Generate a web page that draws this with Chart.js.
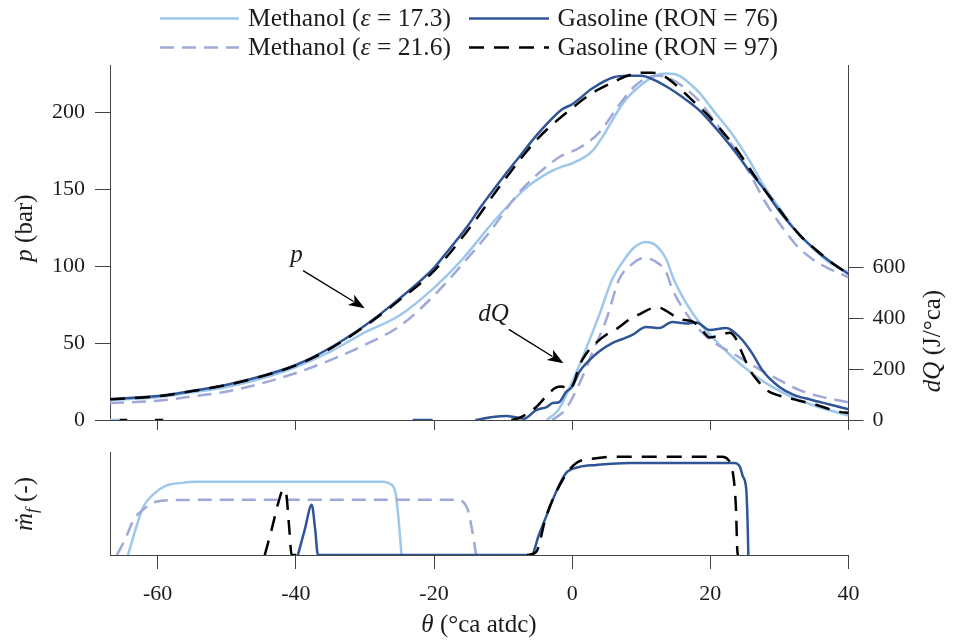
<!DOCTYPE html>
<html><head><meta charset="utf-8">
<script src="https://cdn.jsdelivr.net/npm/chart.js@4.4.1/dist/chart.umd.min.js"></script>
<style>
html,body{margin:0;padding:0;background:#fff;overflow:hidden}
#wrap{position:relative;width:953px;height:644px;background:#fff}
canvas{position:absolute;left:0}
</style></head><body>
<div id="wrap">
<canvas id="cTop" width="953" height="440" style="top:0"></canvas>
<canvas id="cBot" width="953" height="204" style="top:440px"></canvas>
</div>
<script>
// ---------------- DATA ----------------
const thetaTicks = [-60, -40, -20, 0, 20, 40];
const pTicks = [0, 50, 100, 150, 200];
const dqTicks = [0, 200, 400, 600];

// cylinder pressure p (bar) vs theta (°ca atdc)
const pMeth173 = [[-66.9,13],[-60,14.8],[-55,18],[-50,21.5],[-45,27],[-40,34.5],[-35,44.5],[-30,57],[-25,68],[-20,86],[-16,104],[-11.2,130],[-6.4,152],[-3,162],[-1.4,165],[0,167],[2.9,175],[4.5,185],[5.8,195],[7.5,207],[9.7,217],[12,224],[13.6,225.5],[15.5,224],[17,219],[18.4,213],[20.5,201],[23,187],[25.5,170],[27.8,152],[30,138],[32.6,122],[35,111],[37.4,102],[40,96]];
const pMeth216 = [[-66.9,11],[-60,12.5],[-55,15.3],[-50,18.5],[-45,23.8],[-40,30.6],[-35,39],[-30,49],[-25,61],[-20,81],[-15,106],[-12,122],[-7.7,148],[-5,160],[-1.9,171],[1,177],[3.9,187],[6.8,205],[9,217],[11,223],[12.5,224],[14,222.5],[16,217],[18.3,208],[20.5,195],[23,180],[25.5,162],[27.8,143],[30,128],[32.6,113],[35,104],[37.4,98],[40,93]];
const pGas76 = [[-66.9,13.7],[-60,15.6],[-55,19],[-50,23],[-45,28.5],[-40,35.8],[-35,47],[-30,61.5],[-25,79],[-20,99],[-18.8,105.5],[-15,127],[-13.5,137],[-10,158],[-7.7,171],[-5,186],[-1.5,202],[0,205.5],[3,216],[6,223],[8,224],[10,224],[12,221],[14,216],[16,210],[18.3,202],[20,194],[23,178],[25.5,163],[27.8,150],[30,136],[32.6,122],[35.4,110],[38,101],[40,95]];
const pGas97 = [[-66.9,13.5],[-60,15.4],[-55,18.8],[-50,22.8],[-45,28.3],[-40,35.5],[-35,46.5],[-30,61],[-25,78],[-20,97],[-15,124],[-10,155],[-5,183],[0,203],[3,213],[6,220],[8,224],[10,226],[11.5,226],[13.6,223],[15.5,216],[17.4,208],[19.5,199],[21.3,190],[23.5,178],[25.2,167],[27,155],[29,143],[31,131],[33,120],[35.5,110],[38,101],[40,95]];

// heat release dQ (J/°ca) vs theta; null = gap in the line
const dqMeth173 = [[-66.9,0],[-65.5,0],[-65.4,null],[-3.7,0],[-2,40],[0,150],[2,280],[4,420],[5.8,554],[7.5,630],[9,680],[10.7,701],[12,690],[13.6,634],[14.7,554],[16.5,460],[18.4,384],[20.5,320],[23.1,250],[25.5,195],[28,146],[30.5,108],[32.8,79],[36,48],[40,18]];
const dqMeth216 = [[-2.9,0],[-1,40],[1,140],[3,270],[5,400],[6.8,554],[8.5,610],[10.4,638],[12,625],[13.6,582],[14.5,515],[16.5,420],[18.4,356],[20.5,305],[23.1,265],[25.5,225],[28,186],[30.5,150],[32.8,119],[36,92],[40,70]];
const dqGas76 = [[-23.1,0],[-20.2,0],[-20.1,null],[-14,0],[-11.5,12],[-9.5,16],[-8,10],[-7,5],[-5.2,39],[-3.7,51],[-2.8,67],[-1.9,70],[-0.9,110],[0,131],[1.05,190],[2.5,236],[4,272],[5.8,303],[7.2,318],[8.7,335],[10.7,366],[12.6,362],[14.5,386],[16.5,380],[18,384],[19.9,354],[22.3,362],[24.2,327],[26,265],[27.5,197],[30,130],[32,100],[34.7,79],[37,63],[40,42]];
const dqGas97 = [[-65.5,0],[-64.4,0],[-64.3,null],[-60.4,0],[-59.2,0],[-59.1,null],[-8.8,0],[-7.7,8],[-6.5,25],[-5.2,51],[-3.3,107],[-2.3,128],[-1.5,132],[-0.5,119],[0.3,150],[1,210],[2,260],[3.5,305],[5.4,344],[6.5,360],[8.3,396],[10,420],[11.5,440],[12.5,443],[13.5,432],[15.1,404],[16,395],[17.4,388],[18.5,365],[19.9,325],[21,330],[22.8,344],[23.6,325],[24.2,289],[25.7,198],[27,150],[28.1,119],[29.5,100],[31.4,87],[33,75],[35.4,59],[38.7,32],[40,28]];

// normalised fuel mass flow (-) vs theta
const mMeth173 = [[-64.3,0],[-63.2,0.25],[-62.1,0.47],[-60.5,0.6],[-58.7,0.68],[-56.5,0.705],[-54.4,0.715],[-50,0.717],[-27.3,0.717],[-26.5,0.7],[-25.6,0.62],[-25.2,0.4],[-24.7,0]];
const mMeth216 = [[-65.9,0],[-64.6,0.17],[-63.5,0.34],[-62,0.45],[-60.2,0.52],[-57.3,0.537],[-50,0.54],[-16.8,0.54],[-15.8,0.52],[-15.1,0.44],[-14.5,0.25],[-13.9,0]];
const mGas76 = [[-39.7,0],[-38.7,0.25],[-37.7,0.49],[-37.2,0.25],[-36.8,0],[-5.9,0],[-4.8,0.2],[-3.8,0.37],[-2.3,0.62],[-0.9,0.8],[1,0.86],[3.5,0.88],[8.3,0.9],[23.5,0.9],[24.3,0.86],[24.7,0.77],[25.2,0.64],[25.4,0.3],[25.5,0]];
const mGas97 = [[-44.5,0],[-43.5,0.25],[-42.5,0.52],[-41.8,0.64],[-41.4,0.6],[-41.0,0.3],[-40.6,0],[-38.5,0],[-38.4,null],[-6.5,0],[-5.2,0.03],[-3.8,0.37],[-1.9,0.67],[0.6,0.9],[3.5,0.945],[6,0.96],[21.7,0.96],[22.6,0.93],[23.2,0.83],[23.7,0.47],[23.9,0.05],[24,0]];

// ---------------- STYLE / LAYOUT ----------------
const SERIF = "'Liberation Serif','Times New Roman',serif";
const TXT = '#1c1c1c';
const AX = '#444444';
const COL = {meth173:'#9dc8ec', meth216:'#9fa8d8', gas76:'#2f5597', gas97:'#000000'};
const DASH = {meth216:[14,8], gas97:[15,10]};
const LW = 2.5;
const F_TICK = 22, F_TXT = 25;
const R = s => `${s}px ${SERIF}`;
const I = s => `italic ${s}px ${SERIF}`;

const xy = arr => arr.map(([x, y]) => ({x, y}));
function ds(label, arr, color, dash, axis) {
  return {label, data: xy(arr), borderColor: color, backgroundColor: color,
    borderDash: dash || [], borderWidth: LW, pointRadius: 0, fill: false,
    cubicInterpolationMode: 'monotone', spanGaps: false, yAxisID: axis || 'y',
    borderCapStyle: 'butt', borderJoinStyle: 'round'};
}

function drawRich(ctx, parts, x, y, rot, align) {
  ctx.save();
  ctx.translate(x, y);
  ctx.rotate(rot);
  ctx.textBaseline = 'alphabetic';
  ctx.fillStyle = TXT;
  let w = 0;
  parts.forEach(p => { ctx.font = p.f; p.w = ctx.measureText(p.t).width; w += p.w + (p.dx || 0); });
  let cx = align === 'center' ? -w / 2 : 0;
  parts.forEach(p => { ctx.font = p.f; cx += (p.dx || 0); ctx.fillText(p.t, cx, p.dy || 0); cx += p.w; });
  ctx.restore();
}

function arrow(ctx, x0, y0, x1, y1) {
  const a = Math.atan2(y1 - y0, x1 - x0), L = 16, H = 6;
  ctx.save();
  ctx.strokeStyle = '#000'; ctx.fillStyle = '#000'; ctx.lineWidth = 1.4;
  ctx.beginPath(); ctx.moveTo(x0, y0);
  ctx.lineTo(x1 - (L - 3) * Math.cos(a), y1 - (L - 3) * Math.sin(a)); ctx.stroke();
  ctx.beginPath();
  ctx.moveTo(x1, y1);
  ctx.lineTo(x1 - L * Math.cos(a) + H * Math.sin(a), y1 - L * Math.sin(a) - H * Math.cos(a));
  ctx.lineTo(x1 - (L - 4) * Math.cos(a), y1 - (L - 4) * Math.sin(a));
  ctx.lineTo(x1 - L * Math.cos(a) - H * Math.sin(a), y1 - L * Math.sin(a) + H * Math.cos(a));
  ctx.closePath(); ctx.fill();
  ctx.restore();
}

const legendItems = [
  {parts: [['Methanol (', 'r'], ['ε', 'i'], [' = 17.3)', 'r']], color: COL.meth173, dash: [], x0: 160, x1: 239, tx: 248, y: 18.5},
  {parts: [['Gasoline (RON = 76)', 'r']], color: COL.gas76, dash: [], x0: 469, x1: 549, tx: 557.5, y: 18.5},
  {parts: [['Methanol (', 'r'], ['ε', 'i'], [' = 21.6)', 'r']], color: COL.meth216, dash: DASH.meth216, x0: 160, x1: 239, tx: 248, y: 47.5},
  {parts: [['Gasoline (RON = 97)', 'r']], color: COL.gas97, dash: DASH.gas97, x0: 469, x1: 549, tx: 557.5, y: 47.5}
];

const topDecor = {
  id: 'topDecor',
  afterDraw(chart) {
    const ctx = chart.ctx, sx = chart.scales.x, sp = chart.scales.y, sq = chart.scales.y2;
    // legend
    legendItems.forEach(it => {
      ctx.save();
      ctx.strokeStyle = it.color; ctx.lineWidth = LW; ctx.setLineDash(it.dash);
      ctx.beginPath(); ctx.moveTo(it.x0, it.y); ctx.lineTo(it.x1, it.y); ctx.stroke();
      ctx.restore();
      ctx.save(); ctx.textBaseline = 'middle'; ctx.fillStyle = TXT;
      let cx = it.tx;
      it.parts.forEach(([t, s]) => { ctx.font = s === 'i' ? I(F_TXT + 0.5) : R(F_TXT + 0.5); ctx.fillText(t, cx, it.y + 1); cx += ctx.measureText(t).width; });
      ctx.restore();
    });
    // annotations (positioned in data coordinates)
    ctx.save(); ctx.fillStyle = TXT; ctx.textAlign = 'center'; ctx.textBaseline = 'alphabetic';
    ctx.font = I(F_TXT);
    ctx.fillText('p', sx.getPixelForValue(-39.9), sp.getPixelForValue(103));
    ctx.fillText('dQ', sx.getPixelForValue(-11.4), sq.getPixelForValue(390));
    ctx.restore();
    arrow(ctx, sx.getPixelForValue(-38.95), sp.getPixelForValue(97.2), sx.getPixelForValue(-30.03), sp.getPixelForValue(72.7));
    arrow(ctx, sx.getPixelForValue(-9.17), sq.getPixelForValue(357), sx.getPixelForValue(-1.26), sq.getPixelForValue(223));
    // axis titles
    drawRich(ctx, [{t: 'p', f: I(F_TXT)}, {t: ' (bar)', f: R(F_TXT)}], 32, 228, -Math.PI / 2, 'center');
    drawRich(ctx, [{t: 'dQ', f: I(F_TXT)}, {t: ' (J/°ca)', f: R(F_TXT)}], 940, 341, -Math.PI / 2, 'center');
  }
};

const botDecor = {
  id: 'botDecor',
  afterDraw(chart) {
    const ctx = chart.ctx;
    drawRich(ctx, [{t: 'θ', f: I(F_TXT)}, {t: ' (°ca atdc)', f: R(F_TXT)}], 479, 192, 0, 'center');
    drawRich(ctx, [{t: 'ṁ', f: I(F_TXT)}, {t: 'f', f: I(17), dy: 5}, {t: ' (-)', f: R(F_TXT)}], 32, 64, -Math.PI / 2, 'center');
  }
};

const setTicks = vals => s => { s.ticks = vals.map(v => ({value: v})); };
const gridOpt = len => ({drawOnChartArea: false, drawTicks: true, tickLength: len, color: AX, lineWidth: 1});
const borderOpt = {display: true, color: AX, width: 1};
const fitV = w => s => { s.width = w; s.paddingTop = 0; s.paddingBottom = 0; };
const fitH = h => s => { s.height = h; s.paddingLeft = 0; s.paddingRight = 0; };

Chart.defaults.font.family = SERIF;

new Chart(document.getElementById('cTop'), {
  type: 'line',
  data: {datasets: [
    ds('Gasoline (RON = 97)', pGas97, COL.gas97, DASH.gas97, 'y'),
    ds('Gasoline (RON = 76)', pGas76, COL.gas76, null, 'y'),
    ds('Methanol (ε = 21.6)', pMeth216, COL.meth216, DASH.meth216, 'y'),
    ds('Methanol (ε = 17.3)', pMeth173, COL.meth173, null, 'y'),
    ds('dQ Gasoline (RON = 97)', dqGas97, COL.gas97, DASH.gas97, 'y2'),
    ds('dQ Gasoline (RON = 76)', dqGas76, COL.gas76, null, 'y2'),
    ds('dQ Methanol (ε = 21.6)', dqMeth216, COL.meth216, DASH.meth216, 'y2'),
    ds('dQ Methanol (ε = 17.3)', dqMeth173, COL.meth173, null, 'y2')
  ]},
  options: {
    responsive: false, animation: false, devicePixelRatio: 1,
    layout: {padding: {top: 65, left: 0, right: 0, bottom: 0}},
    plugins: {legend: {display: false}, tooltip: {enabled: false}},
    scales: {
      x: {type: 'linear', position: 'bottom', min: -66.9, max: 40,
          afterBuildTicks: setTicks(thetaTicks), ticks: {display: false},
          grid: gridOpt(10), border: borderOpt, afterFit: fitH(20)},
      y: {type: 'linear', position: 'left', min: 0, max: 231,
          afterBuildTicks: setTicks(pTicks),
          ticks: {font: {family: SERIF, size: F_TICK}, color: TXT, padding: 10, callback: v => String(v)},
          grid: gridOpt(15), border: borderOpt, afterFit: fitV(110)},
      y2: {type: 'linear', position: 'right', min: 0, max: 1398,
          afterBuildTicks: setTicks(dqTicks),
          ticks: {font: {family: SERIF, size: F_TICK}, color: TXT, padding: 9, callback: v => String(v)},
          grid: gridOpt(15), border: borderOpt, afterFit: fitV(104.5)}
    }
  },
  plugins: [topDecor]
});

new Chart(document.getElementById('cBot'), {
  type: 'line',
  data: {datasets: [
    ds('Gasoline (RON = 97)', mGas97, COL.gas97, DASH.gas97),
    ds('Gasoline (RON = 76)', mGas76, COL.gas76, null),
    ds('Methanol (ε = 21.6)', mMeth216, COL.meth216, DASH.meth216),
    ds('Methanol (ε = 17.3)', mMeth173, COL.meth173, null)
  ]},
  options: {
    responsive: false, animation: false, devicePixelRatio: 1,
    layout: {padding: {top: 12.7, left: 0, right: 104.5, bottom: 0}},
    plugins: {legend: {display: false}, tooltip: {enabled: false}},
    scales: {
      x: {type: 'linear', position: 'bottom', min: -66.9, max: 40,
          afterBuildTicks: setTicks(thetaTicks),
          ticks: {font: {family: SERIF, size: F_TICK}, color: TXT, padding: 12, maxRotation: 0, autoSkip: false, callback: v => String(v)},
          grid: gridOpt(14), border: borderOpt, afterFit: fitH(89)},
      y: {type: 'linear', position: 'left', min: 0, max: 1,
          ticks: {display: false},
          grid: {drawOnChartArea: false, drawTicks: false, color: AX},
          border: borderOpt, afterFit: fitV(110)}
    }
  },
  plugins: [botDecor]
});
</script>
</body></html>
